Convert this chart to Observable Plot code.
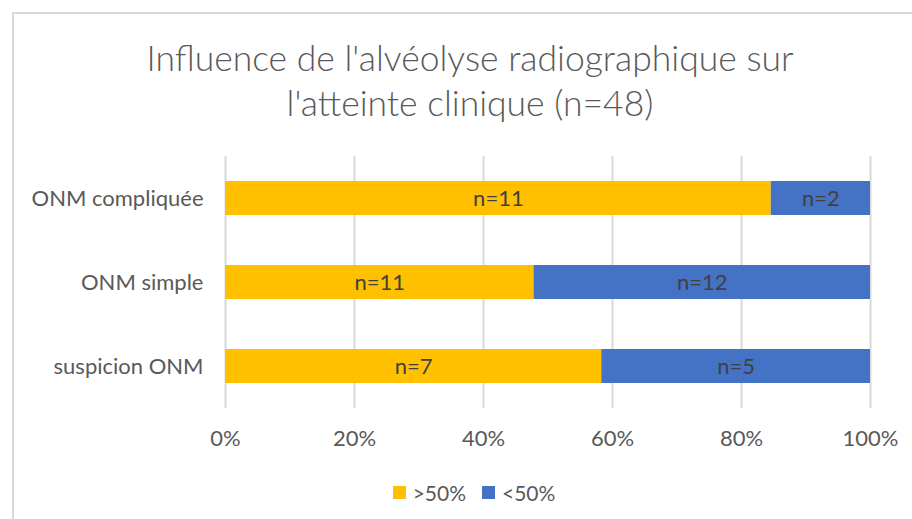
<!DOCTYPE html>
<html>
<head>
<meta charset="utf-8">
<script src="https://cdn.jsdelivr.net/npm/d3@7"></script>
<script src="https://cdn.jsdelivr.net/npm/@observablehq/plot@0.6"></script>
<style>
  body { margin: 0; background: #fff; }
  #wrap { position: relative; width: 912px; height: 519px; overflow: hidden; background: #fff; font-family: Lato, "Open Sans", sans-serif; }
  #border { position: absolute; left: 12px; top: 12px; width: 930px; height: 540px; border: 2px solid #d9d9d9; box-sizing: border-box; }
  #title { position: absolute; left: 12px; width: 916px; top: 35px; text-align: center; font-size: 35.5px; line-height: 45px; color: #595959; font-weight: 300; }
  #chart { position: absolute; left: 0; top: 0; }
  #legend { position: absolute; left: 16px; width: 916px; top: 478px; text-align: center; font-size: 21px; color: #595959; line-height: 26px; }
  .item { display: inline-flex; align-items: center; margin: 0 8px; }
  .sw { display: inline-block; width: 13px; height: 13px; margin-right: 7px; }
</style>
</head>
<body>
<div id="wrap">
  <div id="border"></div>
  <div id="title"></div>
  <div id="chart"></div>
  <div id="legend"></div>
</div>
<script>
const titleLines = ["Influence de l'alvéolyse radiographique sur", "l'atteinte clinique (n=48)"];
const categories = ["ONM compliquée", "ONM simple", "suspicion ONM"];
const seriesNames = [">50%", "<50%"];
const above50 = [11, 11, 7];
const below50 = [2, 12, 5];
const xTicks = [0, 0.2, 0.4, 0.6, 0.8, 1];
const colors = ["#FFC000", "#4472C4"];

const data = [];
categories.forEach((c, i) => {
  data.push({cat: c, series: seriesNames[0], value: above50[i]});
  data.push({cat: c, series: seriesNames[1], value: below50[i]});
});

document.getElementById("title").innerHTML = titleLines.join("<br>");

const plot = Plot.plot({
  width: 912,
  height: 519,
  marginLeft: 225,
  marginRight: 42,
  marginTop: 156,
  marginBottom: 111,
  style: {fontFamily: "Lato, 'Open Sans', sans-serif", fontSize: "22px", color: "#595959", background: "transparent"},
  x: {domain: [0, 1], ticks: xTicks, tickFormat: d => Math.round(d * 100) + "%", tickSize: 0, tickPadding: 22, label: null},
  y: {domain: categories, paddingInner: 0.6, paddingOuter: 0.3, tickSize: 0, tickPadding: 22, label: null},
  color: {domain: seriesNames, range: colors},
  marks: [
    Plot.ruleX(xTicks, {stroke: "#d9d9d9", strokeWidth: 2}),
    Plot.barX(data, Plot.stackX({x: "value", y: "cat", fill: "series", offset: "normalize"})),
    Plot.text(data, Plot.stackX({x: "value", y: "cat", z: "series", offset: "normalize", text: d => "n=" + d.value, fill: "#404040", fontSize: 22})),
    Plot.axisX({ticks: xTicks, tickFormat: d => Math.round(d * 100) + "%", tickSize: 0, tickPadding: 22, fill: "#595959", label: null}),
    Plot.axisY({tickSize: 0, tickPadding: 22, fill: "#595959", label: null})
  ]
});
document.getElementById("chart").appendChild(plot);

const legend = document.getElementById("legend");
seriesNames.forEach((s, i) => {
  const item = document.createElement("span");
  item.className = "item";
  const sw = document.createElement("span");
  sw.className = "sw";
  sw.style.background = colors[i];
  item.appendChild(sw);
  item.appendChild(document.createTextNode(s));
  legend.appendChild(item);
});
</script>
</body>
</html>
